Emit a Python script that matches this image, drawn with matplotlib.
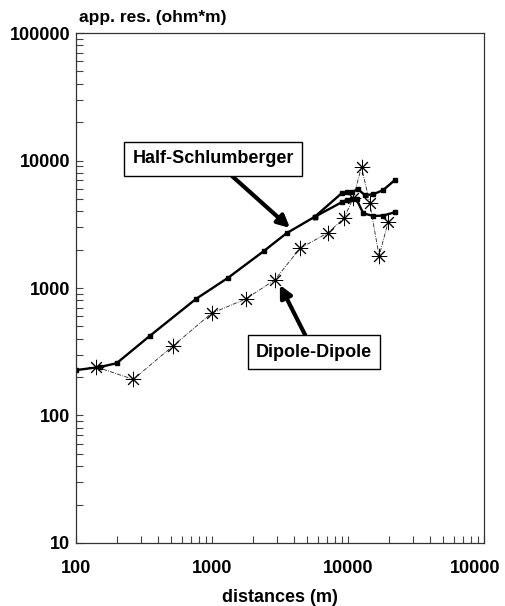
import matplotlib.pyplot as plt
from matplotlib.ticker import FixedLocator, LogLocator, NullFormatter
from matplotlib.transforms import ScaledTranslation

# ----------------------------------------------------------
# DATOS
# ----------------------------------------------------------
# Half-Schlumberger: tramo común + dos ramas al final
hs_x_comun = [100, 150, 199, 350, 762, 1318, 2410, 3540, 5710]
hs_y_comun = [227, 240, 257, 422, 820, 1205, 1950, 2690, 3620]

hs_x_rama_a = [5710, 8990, 9780, 10700, 11900, 13300, 15400, 18200, 22200]
hs_y_rama_a = [3620, 5530, 5640, 5650, 5950, 5360, 5430, 5870, 7030]

hs_x_rama_b = [5710, 8990, 9780, 10640, 11590, 12970, 15350, 18180, 22180]
hs_y_rama_b = [3620, 4700, 4900, 4960, 4960, 3860, 3670, 3700, 3930]

# Dipole-Dipole
dd_x = [140, 264, 520, 995, 1770, 2900, 4440, 7160, 9350, 10940,
        12600, 14500, 16980, 19800]
dd_y = [241, 192, 353, 634, 820, 1156, 2047, 2717, 3524, 5050,
        8930, 4610, 1780, 3310]

x_ticks = [100, 1000, 10000, 100000]
x_tick_labels = ["100", "1000", "10000", "10000"]
y_ticks = [10, 100, 1000, 10000, 100000]
y_tick_labels = ["10", "100", "1000", "10000", "100000"]

plt.rcParams["font.family"] = ["Liberation Sans", "DejaVu Sans"]
plt.rcParams["font.weight"] = "bold"

fig = plt.figure(figsize=(5.05, 6.06), dpi=100)
ax = fig.add_axes([0.1505, 0.104, 0.8075, 0.8415])

ax.set_xscale("log")
ax.set_yscale("log")
ax.set_xlim(100, 100000)
ax.set_ylim(10, 100000)

# curvas
estilo_hs = dict(color="black", lw=1.7, marker="s", ms=3, mfc="black")
ax.plot(hs_x_comun, hs_y_comun, **estilo_hs)
ax.plot(hs_x_rama_a, hs_y_rama_a, **estilo_hs)
ax.plot(hs_x_rama_b, hs_y_rama_b, **estilo_hs)

ax.plot(dd_x, dd_y, color="#222222", lw=0.6, ls=(0, (5, 1.5, 1, 1.5)),
        marker=(8, 2, 0), ms=11, mew=0.7, mec="black")

# ejes
ax.xaxis.set_major_locator(FixedLocator(x_ticks))
ax.set_xticklabels(x_tick_labels, fontsize=13, fontweight="bold")
ax.yaxis.set_major_locator(FixedLocator(y_ticks))
ax.set_yticklabels(y_tick_labels, fontsize=13, fontweight="bold")
ax.xaxis.set_minor_locator(LogLocator(base=10, subs=range(2, 10)))
ax.yaxis.set_minor_locator(LogLocator(base=10, subs=range(2, 10)))
ax.xaxis.set_minor_formatter(NullFormatter())
ax.yaxis.set_minor_formatter(NullFormatter())
ax.tick_params(axis="both", which="both", direction="in", top=False, right=False,
               width=0.8, color="#444444", length=5)
ax.tick_params(axis="x", which="major", pad=12)
ax.tick_params(axis="y", which="major", pad=4)
for lado in ax.spines.values():
    lado.set_linewidth(0.9)
    lado.set_color("#333333")

# la última etiqueta del eje x queda algo a la izquierda (como en el original)
ultima = ax.get_xticklabels()[-1]
ultima.set_transform(ultima.get_transform()
                     + ScaledTranslation(-0.09, 0, fig.dpi_scale_trans))

ax.set_xlabel("distances (m)", fontsize=13, fontweight="bold", labelpad=9)
fig.text(0.157, 0.971, "app. res. (ohm*m)", fontsize=12.5, fontweight="bold",
         ha="left", va="center")

# etiquetas con flecha
caja = dict(boxstyle="square,pad=0.45", fc="white", ec="black", lw=1.0)
flecha = dict(arrowstyle="-|>", lw=3, mutation_scale=18, color="black",
              shrinkA=0, shrinkB=0)
ax.annotate("Half-Schlumberger", xy=(3750, 2960), xycoords="data",
            xytext=(0.336, 0.753), textcoords="axes fraction",
            ha="center", va="center", fontsize=13, fontweight="bold",
            bbox=caja, arrowprops=flecha)
ax.annotate("Dipole-Dipole", xy=(3160, 1057), xycoords="data",
            xytext=(0.583, 0.3745), textcoords="axes fraction",
            ha="center", va="center", fontsize=13, fontweight="bold",
            bbox=caja, arrowprops=flecha)

fig.savefig("out.png", dpi=100)
